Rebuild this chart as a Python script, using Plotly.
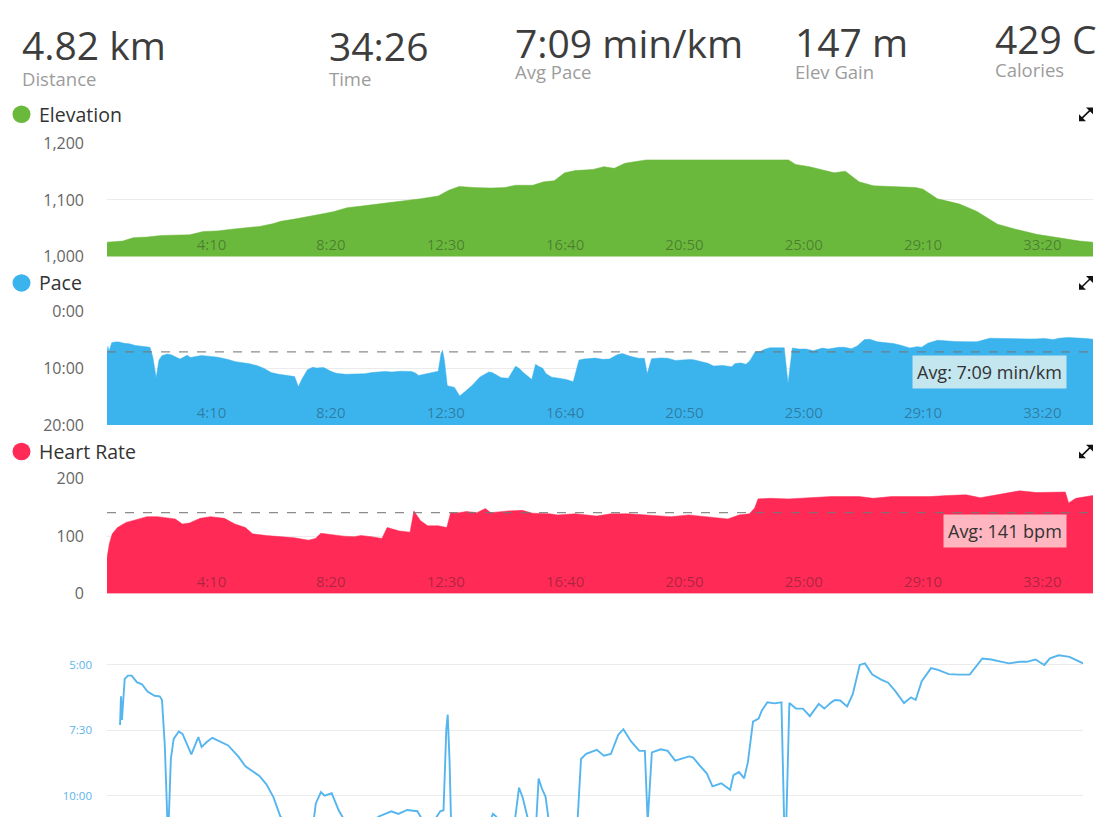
import plotly.graph_objects as go

W, H = 1097, 827

# ---------------- data ----------------
summary_values = ["4.82 km", "34:26", "7:09 min/km", "147 m", "429 C"]
summary_labels = ["Distance", "Time", "Avg Pace", "Elev Gain", "Calories"]

time_tickvals = [250, 500, 750, 1000, 1250, 1500, 1750, 2000]
time_ticktext = ["4:10", "8:20", "12:30", "16:40", "20:50", "25:00", "29:10", "33:20"]
total_time = 2066

elev_t = [0, 33, 55, 84, 114, 143, 173, 202, 231, 261, 290, 320, 349, 364, 393, 422, 444, 474, 503, 533,
          562, 591, 621, 657, 694, 716, 738, 768, 804, 834, 856, 892, 915, 937, 959, 981, 1018, 1041, 1063,
          1085, 1115, 1130, 1428, 1443, 1472, 1502, 1524, 1547, 1576, 1606, 1651, 1695, 1710, 1740, 1785,
          1822, 1866, 1904, 1948, 1978, 2015, 2038, 2066]
elev_v = [1025, 1027, 1033, 1034, 1037, 1037, 1038, 1044, 1045, 1048, 1051, 1053, 1058, 1062, 1066, 1070,
          1074, 1079, 1086, 1089, 1092, 1094, 1097, 1102, 1107, 1117, 1124, 1122, 1121, 1122, 1126, 1126,
          1132, 1134, 1148, 1152, 1154, 1159, 1156, 1165, 1169, 1171, 1171, 1163, 1159, 1153, 1148, 1151,
          1132, 1125, 1124, 1122, 1119, 1102, 1093, 1080, 1057, 1048, 1039, 1035, 1031, 1027, 1025]
elev_ticks = [1000, 1100, 1200]

pace_t = [0, 2, 4, 7, 10, 17, 25, 36, 47, 59, 74, 85, 90, 96, 103, 109, 115, 126, 134, 153, 168, 175, 186,
          198, 217, 232, 254, 269, 299, 314, 329, 344, 360, 380, 393, 401, 408, 420, 431, 439, 454, 469, 480,
          500, 520, 540, 555, 582, 597, 616, 638, 646, 653, 676, 687, 694, 700, 703, 707, 713, 728, 739, 751,
          766, 781, 800, 807, 826, 841, 856, 864, 871, 890, 898, 905, 913, 920, 932, 947, 962, 977, 989, 1000,
          1023, 1038, 1053, 1069, 1080, 1096, 1114, 1126, 1132, 1141, 1160, 1175, 1191, 1221, 1229, 1244,
          1259, 1271, 1290, 1309, 1316, 1328, 1339, 1347, 1358, 1370, 1377, 1389, 1404, 1419, 1427, 1436,
          1450, 1465, 1480, 1499, 1511, 1526, 1534, 1545, 1560, 1572, 1587, 1598, 1614, 1633, 1648, 1663,
          1682, 1697, 1707, 1720, 1740, 1755, 1778, 1800, 1823, 1850, 1869, 1892, 1907, 1930, 1945, 1964,
          1983, 1995, 2014, 2037, 2052, 2066]
pace_v = [7.3, 6.2, 7.1, 6.15, 5.53, 5.41, 5.41, 5.66, 5.74, 6.02, 6.18, 6.2, 6.34, 8.08, 11.7, 8.6, 7.83,
          7.55, 7.64, 8.42, 7.76, 8.14, 7.95, 7.79, 7.95, 8.08, 8.51, 8.88, 9.25, 9.57, 10.06, 10.8, 11.1,
          11.4, 11.5, 13.3, 12.0, 10.3, 9.87, 10.0, 9.91, 10.56, 10.9, 11.1, 11.1, 11.0, 10.8, 10.6, 10.7,
          10.55, 10.6, 10.85, 11.3, 10.9, 10.6, 10.56, 7.45, 6.9, 8.7, 13.1, 13.4, 14.9, 14.1, 13.0, 11.6,
          10.7, 10.8, 11.7, 11.8, 9.7, 10.08, 10.7, 12.0, 9.35, 9.73, 10.05, 11.0, 11.6, 11.8, 12.0, 12.4,
          8.6, 8.4, 8.25, 8.47, 8.41, 7.67, 7.46, 7.92, 8.29, 8.29, 11.0, 8.35, 8.23, 8.29, 8.66, 8.5, 8.54,
          8.85, 9.16, 9.65, 9.53, 9.78, 9.22, 9.1, 9.34, 8.72, 7.17, 7.05, 6.74, 6.43, 6.47, 6.43, 12.7,
          6.46, 6.67, 6.67, 6.96, 6.49, 6.67, 6.43, 6.34, 6.36, 6.59, 6.12, 5.0, 4.94, 5.37, 5.56, 5.68,
          5.99, 6.46, 6.24, 6.34, 5.62, 5.12, 5.19, 5.35, 5.37, 5.37, 4.75, 4.79, 4.88, 4.94, 4.88, 4.88,
          4.79, 5.0, 4.75, 4.63, 4.69, 4.81, 4.94]
pace_avg = 7.15
pace_floor = 20
pace_ticks = [0, 10, 20]
pace_ticktext = ["0:00", "10:00", "20:00"]
pace_zoom_ticks = [5, 7.5, 10]
pace_zoom_ticktext = ["5:00", "7:30", "10:00"]

hr_t = [0, 5, 11, 22, 40, 55, 70, 84, 106, 128, 143, 158, 173, 195, 217, 246, 268, 290, 305, 334, 364, 393,
        422, 437, 448, 466, 496, 518, 532, 554, 576, 587, 613, 635, 643, 657, 672, 694, 712, 720, 731, 753,
        775, 793, 804, 841, 870, 892, 927, 944, 981, 1026, 1056, 1093, 1130, 1182, 1219, 1257, 1301, 1324,
        1346, 1357, 1364, 1390, 1428, 1472, 1517, 1576, 1606, 1643, 1688, 1725, 1762, 1800, 1830, 1875,
        1912, 1948, 1986, 2008, 2015, 2030, 2066]
hr_v = [62, 87, 104, 115, 124, 127, 131, 134, 134, 132, 130, 121, 123, 131, 134, 131, 121, 115, 104, 101, 99,
        97, 93, 96, 105, 103, 100, 99, 101, 99, 96, 115, 109, 107, 144, 127, 118, 118, 115, 141, 140, 143,
        141, 148, 141, 144, 145, 140, 139, 137, 139, 135, 139, 139, 137, 134, 137, 134, 130, 137, 139, 149,
        165, 166, 165, 167, 169, 169, 166, 169, 169, 169, 171, 172, 167, 173, 179, 176, 177, 177, 158, 166,
        171]
hr_avg = 141
hr_ticks = [0, 100, 200]

# ---------------- styling helpers ----------------
def px(x):
    return x / W

def py(y):
    return 1 - y / H

GREEN = "#6ab93c"
BLUE = "#3bb3ed"
RED = "#ff2a55"
LINE_BLUE = "#55b6ef"
FONT = "Open Sans"

fig = go.Figure()

# Elevation
fig.add_trace(go.Scatter(x=elev_t, y=elev_v, mode="lines", fill="tozeroy",
                         line=dict(color=GREEN, width=0.5), fillcolor=GREEN,
                         xaxis="x", yaxis="y", hoverinfo="skip"))

# Pace (filled down to slowest pace)
fig.add_trace(go.Scatter(x=[0, total_time], y=[pace_floor, pace_floor], mode="lines",
                         line=dict(color=BLUE, width=0), xaxis="x2", yaxis="y2", hoverinfo="skip"))
fig.add_trace(go.Scatter(x=pace_t, y=pace_v, mode="lines", fill="tonexty",
                         line=dict(color=BLUE, width=0.5), fillcolor=BLUE,
                         xaxis="x2", yaxis="y2", hoverinfo="skip"))
fig.add_trace(go.Scatter(x=[0, total_time], y=[pace_avg, pace_avg], mode="lines",
                         line=dict(color="rgba(120,120,120,0.85)", width=1.2, dash="dash"),
                         xaxis="x2", yaxis="y2", hoverinfo="skip"))

# Heart rate
fig.add_trace(go.Scatter(x=hr_t, y=hr_v, mode="lines", fill="tozeroy",
                         line=dict(color=RED, width=0.5), fillcolor=RED,
                         xaxis="x3", yaxis="y3", hoverinfo="skip"))
fig.add_trace(go.Scatter(x=[0, total_time], y=[hr_avg, hr_avg], mode="lines",
                         line=dict(color="rgba(120,120,120,0.85)", width=1.2, dash="dash"),
                         xaxis="x3", yaxis="y3", hoverinfo="skip"))

# Bottom pace line
fig.add_trace(go.Scatter(x=pace_t, y=pace_v, mode="lines",
                         line=dict(color=LINE_BLUE, width=1.9),
                         xaxis="x4", yaxis="y4", hoverinfo="skip"))

top_x_dom = [px(107), px(1093)]
tick_font = dict(family=FONT, size=16, color="#666666")
xlab_font = dict(family=FONT, size=15, color="rgba(30,30,30,0.38)")

def top_xaxis(anchor):
    # labels drawn "outside" but pulled up into the plot area with a negative standoff
    return dict(domain=top_x_dom, range=[0, total_time], anchor=anchor,
                tickvals=time_tickvals, ticktext=time_ticktext,
                ticklabelposition="outside left", ticks="", showgrid=False,
                zeroline=False, showline=False, tickfont=xlab_font,
                ticklabelstandoff=-23, fixedrange=True, layer="above traces")

def ylike(dom, rng, tickvals, ticktext=None, fmt=None):
    d = dict(domain=dom, range=rng, tickvals=tickvals, showgrid=True,
             gridcolor="#ebebeb", gridwidth=1, zeroline=False, showline=False,
             ticks="", tickfont=tick_font, ticklabelstandoff=22, fixedrange=True)
    if ticktext is not None:
        d["ticktext"] = ticktext
    if fmt is not None:
        d["tickformat"] = fmt
    return d

layout = dict(
    width=W, height=H, margin=dict(l=0, r=0, t=0, b=0),
    paper_bgcolor="white", plot_bgcolor="white", showlegend=False,
    font=dict(family=FONT),
    xaxis=top_xaxis("y"),
    yaxis=ylike([py(252), py(136)], [999.4, 1200], elev_ticks, fmt=","),
    xaxis2=top_xaxis("y2"),
    yaxis2=ylike([py(425), py(308)], [20.05, 0], pace_ticks, pace_ticktext),
    xaxis3=top_xaxis("y3"),
    yaxis3=ylike([py(598), py(480)], [-0.6, 200], hr_ticks),
    xaxis4=dict(domain=[px(107), px(1083)], range=[-28, total_time], anchor="y4",
                visible=False, fixedrange=True),
    yaxis4=dict(domain=[0, py(645)], range=[10.82, 4.03], tickvals=pace_zoom_ticks,
                ticktext=pace_zoom_ticktext, showgrid=True, gridcolor="#ebebeb",
                zeroline=False, showline=False, ticks="", ticklabelstandoff=14,
                tickfont=dict(family=FONT, size=11.5, color="#5ab4ea"), fixedrange=True),
)

annotations = []
shapes = []

# header
num_pos = [(20, 34), (327, 35), (513, 32), (793, 31), (993, 28)]
lab_pos = [(20, 69), (327, 69), (513, 62), (793, 62), (993, 60)]
for txt, (x, y) in zip(summary_values, num_pos):
    annotations.append(dict(text=txt, x=px(x), y=py(y), xref="paper", yref="paper",
                            xanchor="left", yanchor="middle", showarrow=False,
                            font=dict(family=FONT, size=39, color="#3d3d3d")))
for txt, (x, y) in zip(summary_labels, lab_pos):
    annotations.append(dict(text=txt, x=px(x), y=py(y), xref="paper", yref="paper",
                            xanchor="left", yanchor="middle", showarrow=False,
                            font=dict(family=FONT, size=18.5, color="#9c9c9c")))

# panel titles with coloured dots and expand icons
panels = [("Elevation", GREEN, 106), ("Pace", BLUE, 279), ("Heart Rate", RED, 452)]
for name, col, y in panels:
    shapes.append(dict(type="circle", xref="paper", yref="paper",
                       x0=px(12.5), x1=px(30.5), y0=py(y + 9), y1=py(y - 9),
                       fillcolor=col, line=dict(width=0)))
    annotations.append(dict(text=name, x=px(37), y=py(y), xref="paper", yref="paper",
                            xanchor="left", yanchor="middle", showarrow=False,
                            font=dict(family=FONT, size=19.5, color="#333333")))
    # expand icon: diagonal with two arrow heads
    shapes.append(dict(type="line", xref="paper", yref="paper",
                       x0=px(1081), y0=py(y + 5), x1=px(1091), y1=py(y - 5),
                       line=dict(color="#111111", width=1.6)))
    shapes.append(dict(type="path", xref="paper", yref="paper",
                       path=f"M {px(1086)} {py(y-7)} L {px(1093)} {py(y-7)} L {px(1093)} {py(y)} Z",
                       fillcolor="#111111", line=dict(width=0)))
    shapes.append(dict(type="path", xref="paper", yref="paper",
                       path=f"M {px(1079)} {py(y)} L {px(1079)} {py(y+7)} L {px(1086)} {py(y+7)} Z",
                       fillcolor="#111111", line=dict(width=0)))

# average badges
annotations.append(dict(text="Avg: 7:09 min/km", x=px(1067), y=py(370), xref="paper", yref="paper",
                        xanchor="right", yanchor="middle", showarrow=False,
                        bgcolor="#c4e6ef", borderpad=4,
                        font=dict(family=FONT, size=18, color="#333333")))
annotations.append(dict(text="Avg: 141 bpm", x=px(1067), y=py(534), xref="paper", yref="paper",
                        xanchor="right", yanchor="middle", showarrow=False,
                        bgcolor="#ffb6c0", borderpad=4,
                        font=dict(family=FONT, size=18, color="#333333")))

layout["annotations"] = annotations
layout["shapes"] = shapes
fig.update_layout(**layout)

fig.write_html("out.html", config={"displayModeBar": False},
               post_script="document.body.style.margin='0';document.body.style.overflow='hidden';")
